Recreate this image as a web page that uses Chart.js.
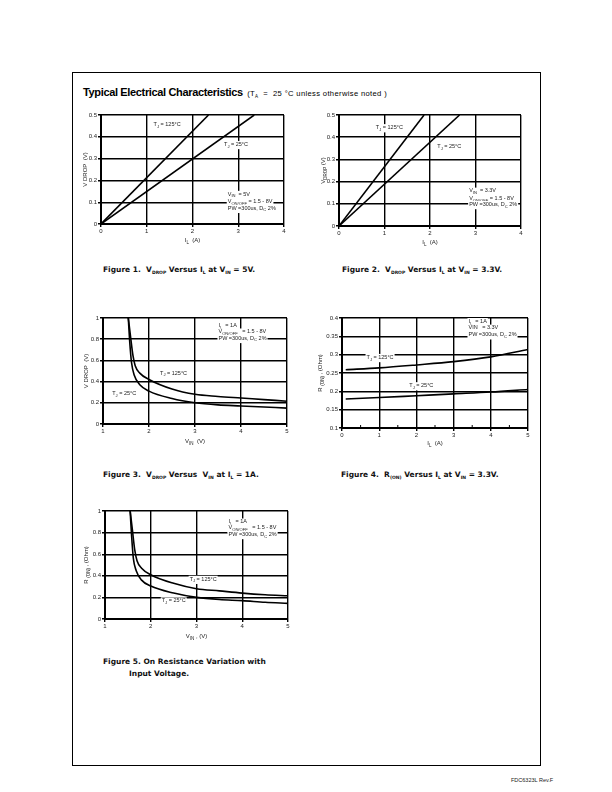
<!DOCTYPE html>
<html>
<head>
<meta charset="utf-8">
<script src="https://cdn.jsdelivr.net/npm/chart.js@4.4.1/dist/chart.umd.min.js"></script>
<style>
body { margin:0; width:612px; height:792px; background:#fff; position:relative; overflow:hidden; font-family:"Liberation Sans", Arial, sans-serif; color:#000; }
.frame { position:absolute; left:72px; top:72px; width:467px; height:692px; border:1px solid #000; }
.box { position:absolute; }
.title { position:absolute; left:83px; top:82px; white-space:nowrap; color:#000; }
.title b { font-size:11px; letter-spacing:-0.35px; color:#000; }
.title span { font-size:7.6px; letter-spacing:0.35px; color:#000; }
.title sub, .cap sub { font-size:4.5px; vertical-align:-2px; }
.cap { position:absolute; font-family:"DejaVu Sans", sans-serif; font-weight:bold; font-size:7.5px; white-space:nowrap; color:#111; }
.foot { position:absolute; left:511px; top:777px; font-size:5.5px; color:#222; }
</style>
</head>
<body>
<div class="frame"></div>
<div class="title"><b>Typical Electrical Characteristics</b> <span>(T<sub>A</sub> &nbsp;= &nbsp;25 °C unless otherwise noted )</span></div>

<div class="box" style="left:76px;top:108px;width:220px;height:142px"><canvas id="fig1"></canvas></div>
<div class="box" style="left:314px;top:108px;width:219px;height:144px"><canvas id="fig2"></canvas></div>
<div class="box" style="left:78px;top:311px;width:220px;height:139px"><canvas id="fig3"></canvas></div>
<div class="box" style="left:314px;top:311px;width:226px;height:143px"><canvas id="fig4"></canvas></div>
<div class="box" style="left:80px;top:504px;width:220px;height:141px"><canvas id="fig5"></canvas></div>

<div class="cap" style="left:103px;top:265px">Figure 1.&nbsp; V<sub>DROP</sub> Versus I<sub>L</sub> at V<sub>IN</sub> = 5V.</div>
<div class="cap" style="left:342px;top:265px">Figure 2.&nbsp; V<sub>DROP</sub> Versus I<sub>L</sub> at V<sub>IN</sub> = 3.3V.</div>
<div class="cap" style="left:103px;top:470px">Figure 3.&nbsp; V<sub>DROP</sub> Versus&nbsp; V<sub>IN</sub> at I<sub>L</sub> = 1A.</div>
<div class="cap" style="left:341px;top:470px">Figure 4.&nbsp; R<sub>(ON)</sub> Versus I<sub>L</sub> at V<sub>IN</sub> = 3.3V.</div>
<div class="cap" style="left:103px;top:657px">Figure 5. On Resistance Variation with</div>
<div class="cap" style="left:129px;top:669px">Input Voltage.</div>
<div class="foot">FDC6323L Rev.F</div>

<script>
// Figura 1: VDROP vs IL a VIN = 5V
const fig1X125 = [0, 2.35];
const fig1Y125 = [0, 0.5];
const fig1X25 = [0, 3.35];
const fig1Y25 = [0, 0.5];
const fig1XTicks = [0, 1, 2, 3, 4];
const fig1YTicks = [0, 0.1, 0.2, 0.3, 0.4, 0.5];

// Figura 2: VDROP vs IL a VIN = 3.3V
const fig2X125 = [0, 1.87];
const fig2Y125 = [0, 0.5];
const fig2X25 = [0, 2.65];
const fig2Y25 = [0, 0.5];
const fig2XTicks = [0, 1, 2, 3, 4];
const fig2YTicks = [0, 0.1, 0.2, 0.3, 0.4, 0.5];

// Figura 3: VDROP vs VIN a IL = 1A
const fig3X125 = [1.55, 1.6, 1.65, 1.7, 1.8, 2.0, 2.5, 3, 3.5, 4, 4.5, 5];
const fig3Y125 = [1.0, 0.82, 0.65, 0.55, 0.48, 0.42, 0.33, 0.28, 0.26, 0.245, 0.23, 0.215];
const fig3X25 = [1.55, 1.58, 1.62, 1.68, 1.8, 2.0, 2.5, 3, 3.5, 4, 4.5, 5];
const fig3Y25 = [1.0, 0.78, 0.58, 0.46, 0.37, 0.31, 0.24, 0.2, 0.18, 0.17, 0.16, 0.15];
const fig3XTicks = [1, 2, 3, 4, 5];
const fig3YTicks = [0, 0.2, 0.4, 0.6, 0.8, 1];

// Figura 4: RON vs IL a VIN = 3.3V
const fig4X = [0.1, 1, 2, 3, 4, 5];
const fig4Y125 = [0.259, 0.264, 0.272, 0.281, 0.294, 0.314];
const fig4Y25 = [0.179, 0.183, 0.188, 0.193, 0.198, 0.205];
const fig4XTicks = [0, 1, 2, 3, 4, 5];
const fig4YTicks = [0.1, 0.15, 0.2, 0.25, 0.3, 0.35, 0.4];

// Figura 5: RON vs VIN
const fig5X125 = [1.55, 1.6, 1.65, 1.7, 1.8, 2.0, 2.5, 3, 3.5, 4, 4.5, 5];
const fig5Y125 = [1.0, 0.82, 0.64, 0.54, 0.47, 0.41, 0.33, 0.28, 0.26, 0.24, 0.225, 0.215];
const fig5X25 = [1.55, 1.58, 1.62, 1.68, 1.8, 2.0, 2.5, 3, 3.5, 4, 4.5, 5];
const fig5Y25 = [1.0, 0.78, 0.56, 0.45, 0.36, 0.305, 0.24, 0.2, 0.18, 0.17, 0.155, 0.145];
const fig5XTicks = [1, 2, 3, 4, 5];
const fig5YTicks = [0, 0.2, 0.4, 0.6, 0.8, 1];

const FONT = '"Liberation Sans", Arial, sans-serif';

// texto con subindices: "T_{J} = 25°C"
function richText(ctx, str, x, y, size, align, bg) {
    const parts = str.split(/(_\{[^}]*\})/).filter(s => s.length).map(s =>
        s.startsWith('_{') ? { t: s.slice(2, -1), sub: true } : { t: s, sub: false });
    let w = 0;
    parts.forEach(p => {
        ctx.font = (p.sub ? size * 0.75 : size) + 'px ' + FONT;
        p.w = ctx.measureText(p.t).width;
        w += p.w;
    });
    let cx = align === 'center' ? x - w / 2 : x;
    if (bg) {
        const old = ctx.fillStyle;
        ctx.fillStyle = '#fff';
        ctx.fillRect(cx - 1, y - size * 0.6, w + 2, size * 1.5);
        ctx.fillStyle = old;
    }
    ctx.textAlign = 'left';
    ctx.textBaseline = 'middle';
    parts.forEach(p => {
        ctx.font = (p.sub ? size * 0.75 : size) + 'px ' + FONT;
        ctx.fillText(p.t, cx, p.sub ? y + size * 0.4 : y);
        cx += p.w;
    });
}

const textPlugin = {
    id: 'texts',
    // notas con fondo blanco: tapan la rejilla pero no las curvas
    beforeDatasetsDraw(chart, args, opts) {
        const ctx = chart.ctx;
        const xs = chart.scales.x, ys = chart.scales.y;
        ctx.save();
        ctx.fillStyle = '#222';
        (opts.notes || []).forEach(n => {
            richText(ctx, n.text, xs.getPixelForValue(n.x), ys.getPixelForValue(n.y), 5.5, 'left', true);
        });
        ctx.restore();
    },
    afterDraw(chart, args, opts) {
        const ctx = chart.ctx;
        const a = chart.chartArea;
        const xs = chart.scales.x;
        ctx.save();
        ctx.fillStyle = '#222';
        richText(ctx, opts.xTitle, (a.left + a.right) / 2, a.bottom + opts.xOff, 6, 'center');
        ctx.translate(a.left - opts.yOff, (a.top + a.bottom) / 2);
        ctx.rotate(-Math.PI / 2);
        richText(ctx, opts.yTitle, 0, 0, 6, 'center');
        ctx.restore();
        // marcas menores
        if (opts.minorX) {
            ctx.save();
            ctx.strokeStyle = '#000';
            ctx.lineWidth = 1;
            opts.minorX.forEach(v => {
                const px = xs.getPixelForValue(v);
                ctx.beginPath();
                ctx.moveTo(px, a.bottom);
                ctx.lineTo(px, a.bottom - 3);
                ctx.stroke();
            });
            ctx.restore();
        }
    }
};

function pts(xs, ys) {
    return xs.map((x, i) => ({ x: x, y: ys[i] }));
}

function makeChart(id, cfg) {
    const ctx = document.getElementById(id).getContext('2d');
    return new Chart(ctx, {
        type: 'line',
        data: {
            datasets: cfg.series.map(s => ({
                data: pts(s[0], s[1]),
                borderColor: '#000',
                borderWidth: 1.6,
                pointRadius: 0,
                fill: false,
                cubicInterpolationMode: 'monotone'
            }))
        },
        options: {
            responsive: true,
            maintainAspectRatio: false,
            animation: false,
            layout: { padding: { top: cfg.padTop, right: cfg.padRight, left: 0, bottom: 0 } },
            plugins: {
                legend: { display: false },
                tooltip: { enabled: false },
                texts: cfg.texts
            },
            scales: {
                x: {
                    type: 'linear',
                    min: cfg.xTicks[0],
                    max: cfg.xTicks[cfg.xTicks.length - 1],
                    afterBuildTicks: ax => { ax.ticks = cfg.xTicks.map(v => ({ value: v })); },
                    afterFit: ax => { ax.height = cfg.xH; },
                    grid: { color: '#000', lineWidth: 1.4, tickLength: 3, tickColor: '#000' },
                    border: { color: '#000', width: 2 },
                    ticks: { color: '#222', font: { size: 6, family: FONT }, padding: 1, maxRotation: 0, callback: v => String(v) }
                },
                y: {
                    min: cfg.yTicks[0],
                    max: cfg.yTicks[cfg.yTicks.length - 1],
                    afterBuildTicks: ax => { ax.ticks = cfg.yTicks.map(v => ({ value: v })); },
                    afterFit: ax => { ax.width = cfg.yW; },
                    grid: { color: '#000', lineWidth: 1.4, tickLength: 3, tickColor: '#000' },
                    border: { color: '#000', width: 2 },
                    ticks: { color: '#222', font: { size: 6, family: FONT }, padding: 1, callback: v => String(v) }
                }
            }
        },
        plugins: [textPlugin]
    });
}

makeChart('fig1', {
    series: [[fig1X125, fig1Y125], [fig1X25, fig1Y25]],
    xTicks: fig1XTicks, yTicks: fig1YTicks,
    padTop: 7, padRight: 12, yW: 25, xH: 26,
    texts: {
        xTitle: 'I_{L}  (A)', xOff: 16, yTitle: 'V DROP  (V)', yOff: 16,
        notes: [
            { x: 1.15, y: 0.455, text: 'T_{J} = 125°C' },
            { x: 2.69, y: 0.366, text: 'T_{J} = 25°C' },
            { x: 2.77, y: 0.137, text: 'V_{IN}  = 5V' },
            { x: 2.77, y: 0.104, text: 'V_{ON/OFF} = 1.5 - 8V' },
            { x: 2.77, y: 0.073, text: 'PW =300us, D_{C} 2%' }
        ]
    }
});

makeChart('fig2', {
    series: [[fig2X125, fig2Y125], [fig2X25, fig2Y25]],
    xTicks: fig2XTicks, yTicks: fig2YTicks,
    padTop: 7, padRight: 12, yW: 25, xH: 26,
    texts: {
        xTitle: 'I_{L}  (A)', xOff: 16, yTitle: 'V_{DROP} (V)', yOff: 16,
        notes: [
            { x: 0.81, y: 0.444, text: 'T_{J} = 125°C' },
            { x: 2.16, y: 0.357, text: 'T_{J} = 25°C' },
            { x: 2.86, y: 0.158, text: 'V_{IN}  = 3.3V' },
            { x: 2.86, y: 0.125, text: 'V_{ON/OFF} = 1.5 - 8V' },
            { x: 2.86, y: 0.098, text: 'PW =300us, D_{C} 2%' }
        ]
    }
});

makeChart('fig3', {
    series: [[fig3X125, fig3Y125], [fig3X25, fig3Y25]],
    xTicks: fig3XTicks, yTicks: fig3YTicks,
    padTop: 7, padRight: 11, yW: 25, xH: 26,
    texts: {
        xTitle: 'V_{IN}  (V)', xOff: 17, yTitle: 'V DROP  (V)', yOff: 17,
        notes: [
            { x: 3.51, y: 0.925, text: 'I_{L}  = 1A' },
            { x: 3.51, y: 0.87, text: 'V_{ON/OFF}   = 1.5 - 8V' },
            { x: 3.51, y: 0.81, text: 'PW =300us, D_{C} 2%' },
            { x: 2.24, y: 0.48, text: 'T_{J} = 125°C' },
            { x: 1.2, y: 0.29, text: 'T_{J} = 25°C' }
        ]
    }
});

makeChart('fig4', {
    series: [[fig4X, fig4Y125], [fig4X, fig4Y25]],
    xTicks: fig4XTicks, yTicks: fig4YTicks,
    padTop: 7, padRight: 12, yW: 28, xH: 26,
    texts: {
        xTitle: 'I_{L}  (A)', xOff: 15, yTitle: 'R _{(ON)} , (Ohm)', yOff: 22,
        minorX: [0.5, 1.5, 2.5, 3.5, 4.5],
        notes: [
            { x: 3.4, y: 0.391, text: 'I_{L}  = 1A' },
            { x: 3.4, y: 0.373, text: 'VIN   = 3.3V' },
            { x: 3.4, y: 0.355, text: 'PW =300us, D_{C} 2%' },
            { x: 0.66, y: 0.293, text: 'T_{J} = 125°C' },
            { x: 1.81, y: 0.216, text: 'T_{J} = 25°C' }
        ]
    }
});

makeChart('fig5', {
    series: [[fig5X125, fig5Y125], [fig5X25, fig5Y25]],
    xTicks: fig5XTicks, yTicks: fig5YTicks,
    padTop: 7, padRight: 12, yW: 25, xH: 26,
    texts: {
        xTitle: 'V_{IN} , (V)', xOff: 17, yTitle: 'R _{(ON)} , (Ohm)', yOff: 19,
        notes: [
            { x: 3.7, y: 0.9, text: 'I_{L}  = 1A' },
            { x: 3.7, y: 0.845, text: 'V_{ON/OFF}   = 1.5 - 8V' },
            { x: 3.7, y: 0.785, text: 'PW =300us, D_{C} 2%' },
            { x: 2.85, y: 0.37, text: 'T_{J} = 125°C' },
            { x: 2.24, y: 0.17, text: 'T_{J} = 25°C' }
        ]
    }
});
</script>
</body>
</html>
